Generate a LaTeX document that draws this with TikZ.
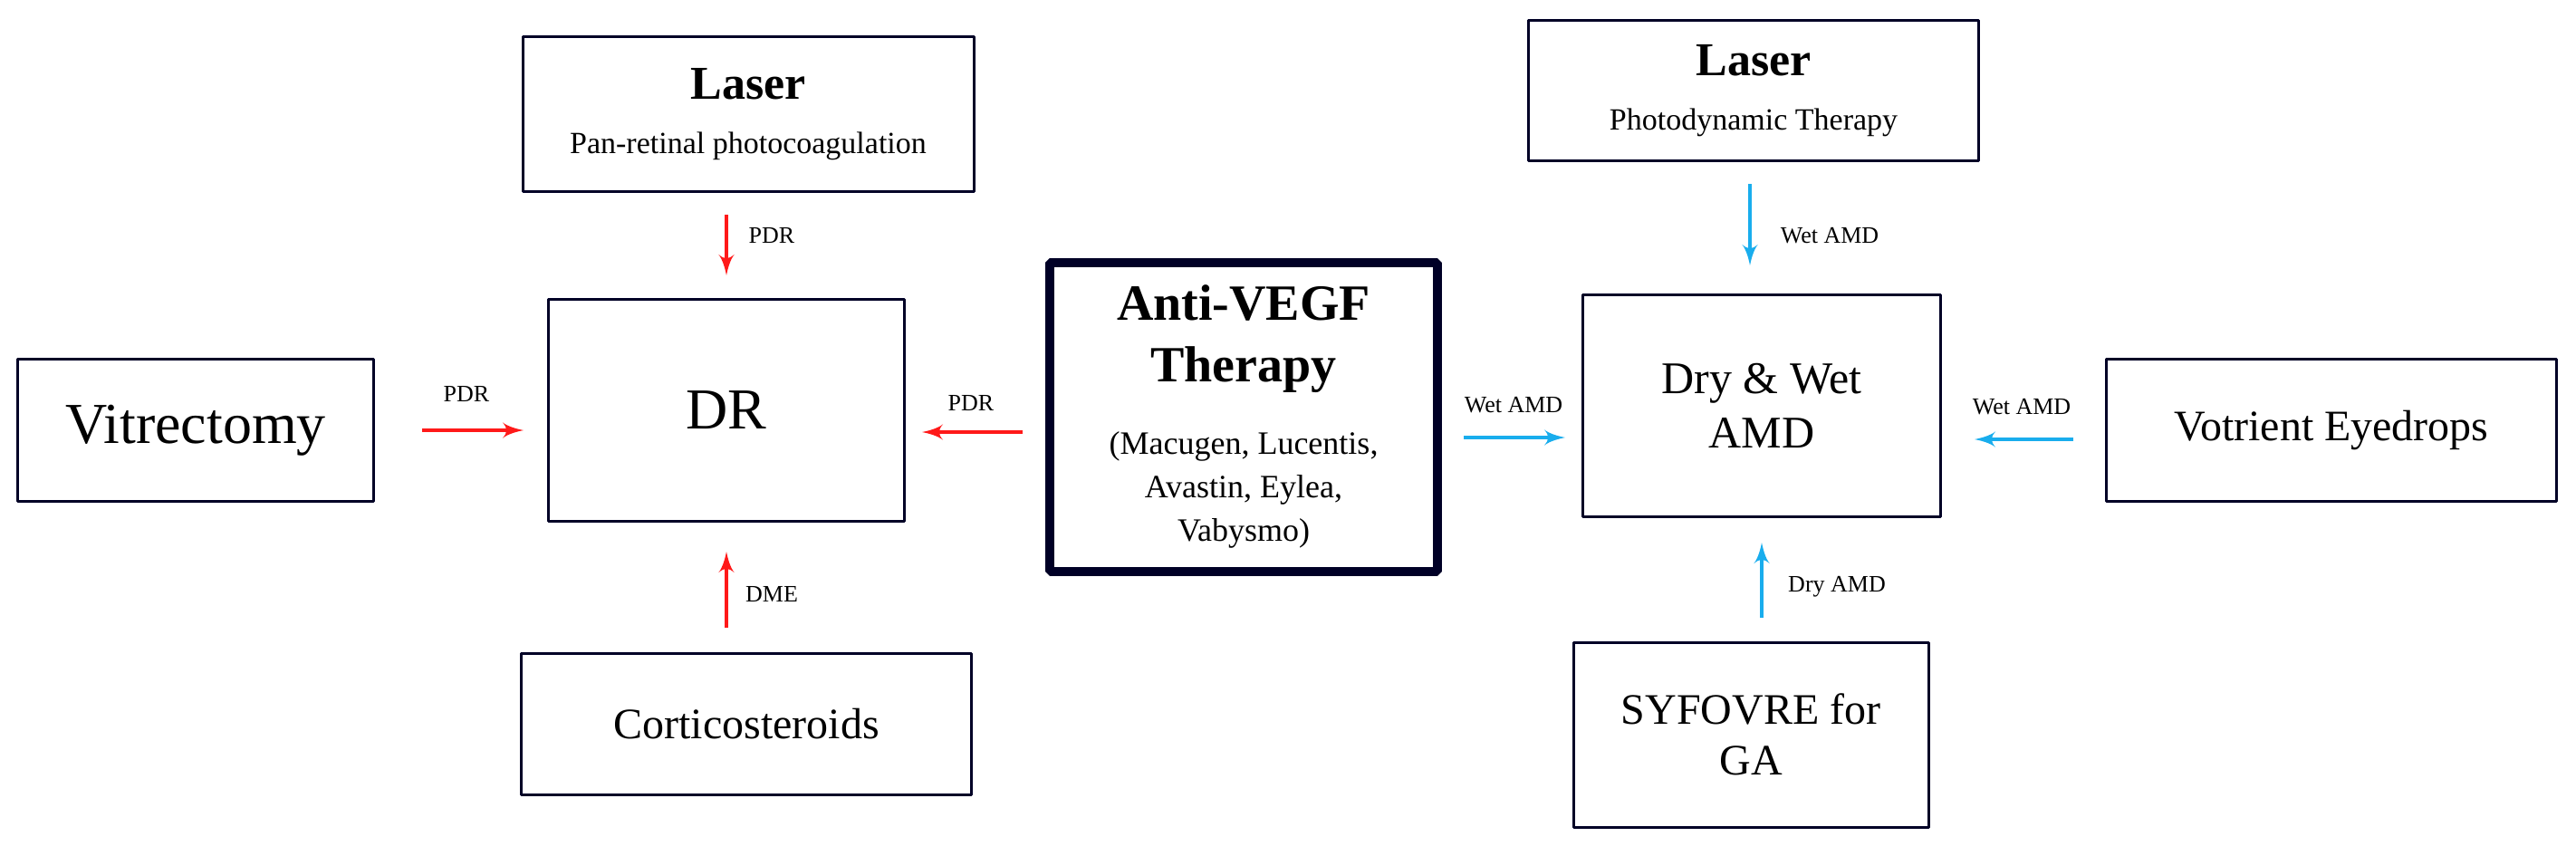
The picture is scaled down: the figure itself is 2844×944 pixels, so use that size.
\documentclass[tikz,border=0pt]{standalone}
\usepackage{fontspec}
\setmainfont{Liberation Serif}
\usepackage{tikz}
\usetikzlibrary{arrows,positioning}
\definecolor{drred}{rgb}{1,0.1,0.1}
\definecolor{amdblue}{rgb}{0.1,0.68,0.93}
\newcommand{\titlefont}{\fontsize{14}{15}\selectfont\bfseries}
\newcommand{\drugfont}{\fontsize{9}{10.3}\selectfont}

\begin{document}
\begin{tikzpicture}[x=0.25pt,y=-0.25pt,>=latex',line join=bevel,
  box/.style={draw=black!85!blue,line width=0.75pt,inner sep=0pt,align=center},
  lab/.style={font=\fontsize{6.5}{7}\selectfont},
  red arrow/.style={->,drred,line width=1pt},
  blue arrow/.style={->,amdblue,line width=1pt}]

  \useasboundingbox (0,0) rectangle (2844,944);
  % Nodes: DR side
  \node[box,minimum width=498*0.25pt,minimum height=171*0.25pt] (lasL) at (826,126)
    {{\fontsize{13}{15}\selectfont\bfseries Laser}\\[3pt]{\fontsize{8.5}{10}\selectfont Pan-retinal photocoagulation}};
  \node[box,minimum width=393*0.25pt,minimum height=245*0.25pt,font=\fontsize{16}{18}\selectfont] (dr) at (802,453) {DR};
  \node[box,minimum width=393*0.25pt,minimum height=157*0.25pt,font=\fontsize{16}{18}\selectfont] (vit) at (216,475) {Vitrectomy};
  \node[box,minimum width=497*0.25pt,minimum height=156*0.25pt,font=\fontsize{12}{14}\selectfont] (cort) at (824,799) {Corticosteroids};
  % Node: Anti-VEGF
  \node[box,line width=2.5pt,minimum width=428*0.25pt,minimum height=341*0.25pt] (anti) at (1373,460)
    {\titlefont Anti-VEGF\\[5pt]\titlefont Therapy\\[8pt]\drugfont (Macugen, Lucentis,\\\drugfont Avastin, Eylea,\\\drugfont Vabysmo)};
  % Nodes: AMD side
  \node[box,minimum width=497*0.25pt,minimum height=155*0.25pt] (lasR) at (1936,100)
    {{\fontsize{13}{15}\selectfont\bfseries Laser}\\[3pt]{\fontsize{8.5}{10}\selectfont Photodynamic Therapy}};
  \node[box,minimum width=395*0.25pt,minimum height=245*0.25pt,font=\fontsize{12.5}{15}\selectfont] (dw) at (1945,448) {Dry \& Wet\\AMD};
  \node[box,minimum width=497*0.25pt,minimum height=157*0.25pt,font=\fontsize{12}{14}\selectfont] (vot) at (2574,475) {Votrient Eyedrops};
  \node[box,minimum width=392*0.25pt,minimum height=204*0.25pt,font=\fontsize{12}{14}\selectfont] (syf) at (1933,811) {SYFOVRE for\\GA};

  % Edges: red
  \draw[red arrow,shorten <=6pt,shorten >=6.25pt] (lasL.south -| dr.north) -- (dr.north);
  \draw[red arrow,shorten <=13pt,shorten >=6.5pt] (vit.east) -- (vit.east -| dr.west);
  \draw[red arrow,shorten <=6.25pt,shorten >=4.5pt] (anti.west |- 0,477) -- (dr.east |- 0,477);
  \draw[red arrow,shorten <=6.75pt,shorten >=8pt] (cort.north -| dr.south) -- (dr.south);
  % Edges: blue
  \draw[blue arrow,shorten <=6pt,shorten >=7.75pt] (lasR.south -| 1932,0) -- (dw.north -| 1932,0);
  \draw[blue arrow,shorten <=6pt,shorten >=4.5pt] (anti.east |- 0,483) -- (dw.west |- 0,483);
  \draw[blue arrow,shorten <=8.75pt,shorten >=9pt] (vot.west |- 0,485) -- (dw.east |- 0,485);
  \draw[blue arrow,shorten <=6.5pt,shorten >=6.75pt] (syf.north -| dw.south) -- (dw.south);

  % Edge labels
  \node[lab] (lPdrTop) at (852,260) {PDR};
  \node[lab] (lPdrVit) at (515,435) {PDR};
  \node[lab] (lPdrAnti) at (1072,445) {PDR};
  \node[lab] (lDme) at (852,656) {DME};
  \node[lab] (lWetTop) at (2020,260) {Wet AMD};
  \node[lab] (lWetAnti) at (1671,447) {Wet AMD};
  \node[lab] (lWetVot) at (2232,449) {Wet AMD};
  \node[lab] (lDry) at (2028,648) {Dry AMD};
\end{tikzpicture}
\end{document}
